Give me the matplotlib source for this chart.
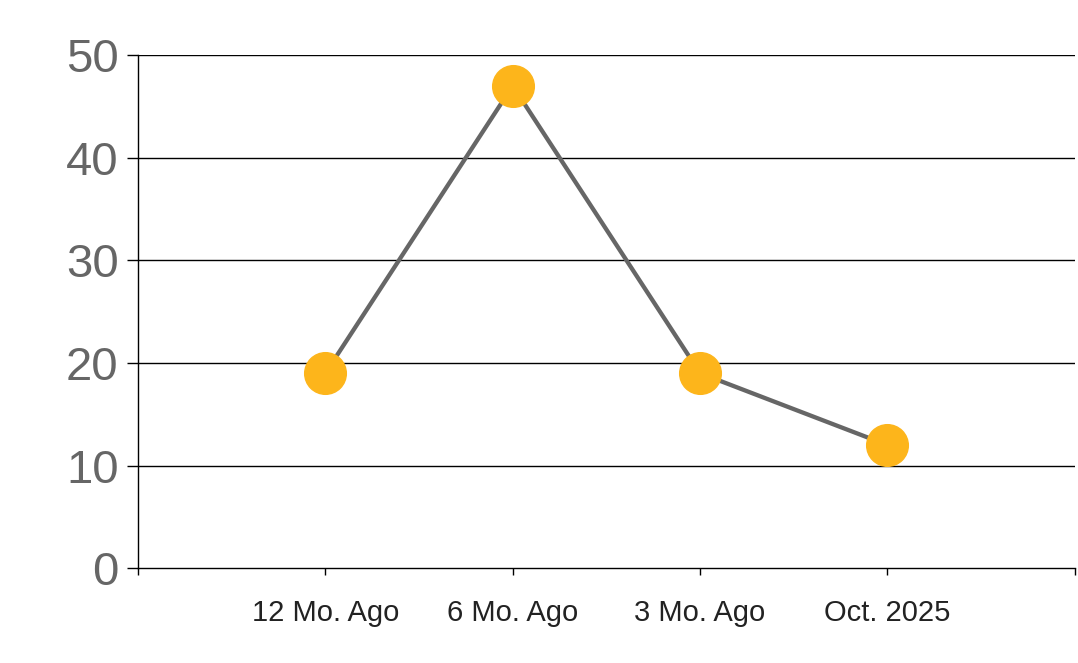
import matplotlib
matplotlib.use("Agg")
import matplotlib.pyplot as plt

categories = ["12 Mo. Ago", "6 Mo. Ago", "3 Mo. Ago", "Oct. 2025"]
values = [19, 47, 19, 12]
yticks = [0, 10, 20, 30, 40, 50]

plt.rcParams['font.family'] = ['Liberation Sans', 'DejaVu Sans']

fig = plt.figure(figsize=(10.78, 6.63), dpi=100)
ax = fig.add_axes([0.128, 0.143, 0.869, 0.774])

x = list(range(1, len(categories) + 1))
ax.plot(x, values, color="#666666", linewidth=3.1, zorder=3,
        marker="o", markersize=30, markerfacecolor="#FDB51B",
        markeredgecolor="#FDB51B")

ax.set_xlim(0, len(categories) + 1)
ax.set_ylim(0, 50)
ax.set_yticks(yticks)
ax.set_yticklabels([str(v) for v in yticks])
ax.set_xticks(range(0, len(categories) + 2))
ax.set_xticklabels([""] + categories + [""])

for v in yticks[1:]:
    ax.axhline(v, color="black", linewidth=1.0, zorder=1)

for s in ["top", "right"]:
    ax.spines[s].set_visible(False)
for s in ["left", "bottom"]:
    ax.spines[s].set_color("black")
    ax.spines[s].set_linewidth(1.0)

ax.tick_params(axis="y", length=8, width=1.0, pad=6, labelsize=34,
               labelcolor="#666666", color="black")
ax.tick_params(axis="x", length=5, width=1.0, pad=17, labelsize=21,
               labelcolor="#222222", color="black")

fig.savefig("out.png", dpi=100)
